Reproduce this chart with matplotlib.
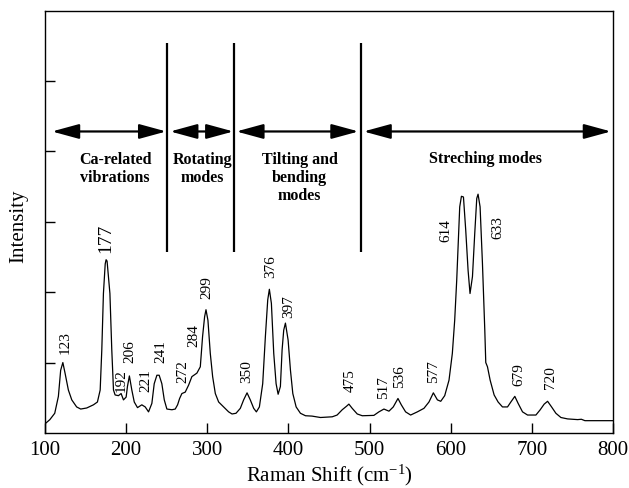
import matplotlib
matplotlib.use("Agg")
import matplotlib.pyplot as plt

plt.rcParams['font.family'] = ['Liberation Serif', 'DejaVu Serif']
plt.rcParams['mathtext.fontset'] = 'custom'
plt.rcParams['mathtext.rm'] = 'Liberation Serif'
plt.rcParams['mathtext.it'] = 'Liberation Serif:italic'

# Spectrum
raman_shift = [101, 106, 112, 116.5, 119.3, 122, 124.7, 128.8, 133, 139, 144, 151.4, 159.7,
               164.6, 168, 170, 172, 174.2, 175.3, 176.5, 180, 182.3, 184.4, 186.4, 190.5,
               193.8, 196.7, 200, 201.6, 204, 207, 210, 214, 219.3, 223.5, 227.6, 231.7,
               234.6, 237.9, 240.7, 244, 247, 250.2, 256.4, 260.5, 263.4, 265.9, 268.7,
               272.8, 277, 281, 287.2, 291.4, 294.2, 296.7, 298.4, 300.8, 303.7, 306.6,
               309.9, 314, 320.2, 326.3, 330.5, 335.4, 340.7, 344.8, 349, 353, 357.2, 360.5,
               364.2, 368.3, 371.6, 374.5, 376.5, 379, 381.9, 384.8, 387.3, 390.1, 392.2,
               394.2, 396.3, 399.6, 402.5, 405.4, 409.5, 414.8, 421, 429, 439.5, 454, 460,
               466.3, 471.6, 474.5, 478.6, 484.8, 491, 505.3, 511.5, 517.7, 523.9, 529.2,
               535, 539.1, 544.4, 550.6, 558.9, 567, 573.2, 578.6, 583.6, 587.7, 592.6,
               597.9, 602, 604.9, 607.4, 609.5, 611.1, 613.2, 615.7, 618.5, 621.4, 623.8,
               626.8, 629.6, 632.1, 633.7, 636.2, 639.1, 642, 643.2, 645.3, 648.6, 653.5,
               658.4, 663.8, 670, 674.1, 679, 683.1, 688.5, 694.7, 705, 710.3, 715.2, 719.4,
               724.3, 729.6, 735.8, 744, 756.4, 761, 765.4, 777, 799.6]
intensity = [0.14, 0.19, 0.28, 0.52, 0.89, 1.0, 0.85, 0.61, 0.47, 0.37, 0.34, 0.355, 0.40,
             0.44, 0.61, 1.18, 1.98, 2.40, 2.46, 2.44, 1.98, 1.18, 0.61, 0.54, 0.53,
             0.56, 0.47, 0.51, 0.66, 0.81, 0.61, 0.44, 0.36, 0.40, 0.37, 0.30, 0.42,
             0.70, 0.82, 0.82, 0.70, 0.47, 0.34, 0.33, 0.34, 0.40, 0.49, 0.56,
             0.58, 0.68, 0.80, 0.85, 0.94, 1.37, 1.65, 1.75, 1.60, 1.13, 0.80,
             0.56, 0.44, 0.37, 0.30, 0.27, 0.28, 0.35, 0.47, 0.57, 0.47, 0.35, 0.30,
             0.37, 0.70, 1.37, 1.89, 2.04, 1.84, 1.13, 0.70, 0.55, 0.66, 1.18,
             1.46, 1.56, 1.32, 0.89, 0.56, 0.37, 0.28, 0.245, 0.24, 0.22, 0.23, 0.255,
             0.33, 0.38, 0.41, 0.35, 0.27, 0.245, 0.25, 0.30, 0.34, 0.31, 0.37,
             0.49, 0.40, 0.30, 0.255, 0.30, 0.35, 0.44, 0.57, 0.47, 0.45, 0.53,
             0.75, 1.13, 1.60, 2.17, 2.78, 3.21, 3.36, 3.35, 2.88, 2.31, 1.98,
             2.22, 2.83, 3.33, 3.39, 3.21, 2.41, 1.46, 1.00, 0.94, 0.75, 0.54,
             0.44, 0.37, 0.37, 0.44, 0.52, 0.42, 0.30, 0.255, 0.255, 0.33, 0.41, 0.45,
             0.37, 0.28, 0.22, 0.20, 0.19, 0.195, 0.175, 0.175, 0.175]

# Peak labels
peak_labels = ['123', '177', '192', '206', '221', '241', '272', '284', '299', '350', '376',
               '397', '475', '517', '536', '577', '614', '633', '679', '720']
peak_label_x = [124.7, 175.3, 193.8, 204.9, 224.7, 242.8, 270.0, 283.1, 299.6, 349.0, 377.8,
                400.4, 475.7, 517.7, 537.0, 579.4, 593.8, 657.7, 684.3, 723.5]
peak_label_y = [1.28, 2.76, 0.75, 1.16, 0.74, 1.16, 0.87, 1.39, 2.06, 0.87, 2.36,
                1.79, 0.75, 0.64, 0.80, 0.87, 2.88, 2.91, 0.83, 0.78]

# Region dividers and region arrows
divider_x = [250.2, 332.5, 489.0]
divider_ymin, divider_ymax = 2.57, 5.53
arrow_y = 4.28
arrow_start = [108.6, 254.3, 335.8, 492.6]
arrow_end = [249.4, 332.1, 486.4, 797.5]
region_texts = ['Ca-related\nvibrations', 'Rotating\nmodes', 'Tilting and\nbending\nmodes',
                'Streching modes']
region_text_x = [186.4, 293.8, 413.6, 643.2]
region_text_y = [3.75, 3.75, 3.62, 3.89]

x_ticks = [100, 200, 300, 400, 500, 600, 700, 800]
y_ticks = [1, 2, 3, 4, 5]

fig = plt.figure(figsize=(6.29, 4.88), dpi=100)
ax = fig.add_axes([45 / 629, (488 - 433) / 488, (613 - 45) / 629, (433 - 11) / 488])

ax.plot(raman_shift, intensity, color='black', lw=0.9)

ax.set_xlim(100, 800)
ax.set_ylim(0, 5.99)
ax.set_xticks(x_ticks)
ax.set_xticklabels([str(t) for t in x_ticks], fontsize=15)
ax.set_yticks(y_ticks)
ax.set_yticklabels([])
ax.tick_params(direction='in', length=7, width=1, top=False, right=False, pad=6)
for s in ax.spines.values():
    s.set_linewidth(1.0)

ax.set_xlabel('Raman Shift (cm$^{-1}$)', fontsize=15, labelpad=2)
ylab = ax.set_ylabel('Intensity', fontsize=15)
ylab.set_va('center')
ax.yaxis.set_label_coords((19 - 45) / 568, 0.49)

for lab, lx, ly in zip(peak_labels, peak_label_x, peak_label_y):
    fs = 14 if lab == '177' else 11
    ax.text(lx, ly, lab, rotation=90, ha='center', va='center', fontsize=fs)

for dx in divider_x:
    ax.plot([dx, dx], [divider_ymin, divider_ymax], color='black', lw=1.6,
            solid_capstyle='butt')

for xs, xe in zip(arrow_start, arrow_end):
    ax.annotate('', xy=(xe, arrow_y), xytext=(xs, arrow_y),
                arrowprops=dict(arrowstyle='<|-|>,head_length=1.1,head_width=0.3',
                                mutation_scale=15, color='black', lw=1.6,
                                shrinkA=0, shrinkB=0))

for t, tx, ty in zip(region_texts, region_text_x, region_text_y):
    ax.text(tx, ty, t, ha='center', va='center', fontsize=11.5, fontweight='bold',
            linespacing=1.2)

fig.savefig('out.png', dpi=100)
